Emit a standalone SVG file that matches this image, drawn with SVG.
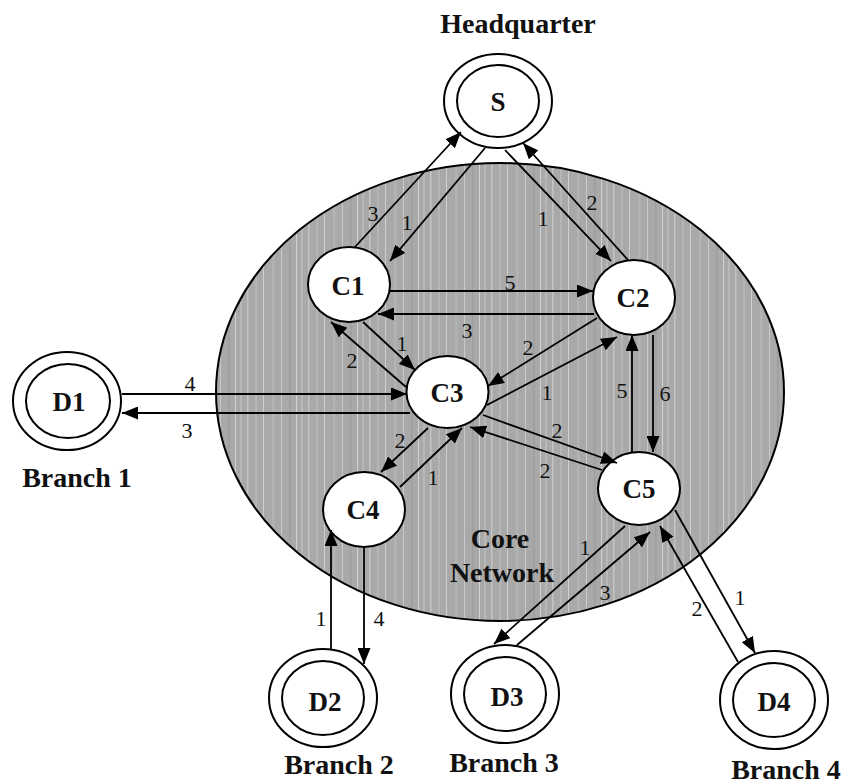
<svg xmlns="http://www.w3.org/2000/svg" width="850" height="784" viewBox="0 0 850 784">
  <style>
    .title { font-family: "Liberation Serif", "Times New Roman", serif; font-weight: bold; font-size: 28px; fill: #111; text-anchor: middle; }
    .nlabel { font-family: "Liberation Serif", "Times New Roman", serif; font-weight: bold; font-size: 27px; fill: #111; text-anchor: middle; }
    .elabel { font-family: "Liberation Serif", "Times New Roman", serif; font-size: 22px; fill: #111; text-anchor: middle; }
    .node { fill: #fff; stroke: #000; stroke-width: 2; }
    .ring { fill: none; stroke: #000; stroke-width: 2; }
    .edge { fill: none; stroke: #000; stroke-width: 1.8; marker-end: url(#arrow); }
  </style>
  <defs>
    <marker id="arrow" markerUnits="userSpaceOnUse" markerWidth="17" markerHeight="13" refX="16" refY="6.5" orient="auto">
      <path d="M0,0 L16,6.5 L0,13 Z" fill="#000"/>
    </marker>
    <!-- vertical streaks on the core area -->
    <pattern id="streaks" patternUnits="userSpaceOnUse" width="61" height="20">
      <rect width="61" height="20" fill="#a9a9a9"/>
      <rect x="3" width="1.5" height="20" fill="#c4c4c4"/>
      <rect x="11" width="2" height="20" fill="#b6b6b6"/>
      <rect x="19" width="1" height="20" fill="#cfcfcf"/>
      <rect x="28" width="2.5" height="20" fill="#b3b3b3"/>
      <rect x="37" width="1" height="20" fill="#c9c9c9"/>
      <rect x="45" width="1.5" height="20" fill="#9e9e9e"/>
      <rect x="52" width="1" height="20" fill="#d2d2d2"/>
      <rect x="57" width="2" height="20" fill="#b8b8b8"/>
    </pattern>
  </defs>

  <rect width="850" height="784" fill="#fff"/>

  <!-- core network area -->
  <g id="core">
    <ellipse cx="500" cy="392" rx="284" ry="229" fill="url(#streaks)" stroke="#000" stroke-width="2"/>
    <text class="title" x="500" y="548">Core</text>
    <text class="title" x="502" y="582">Network</text>
  </g>

  <!-- headquarter -->
  <g id="S">
    <ellipse class="node" cx="498" cy="101" rx="54" ry="47"/>
    <ellipse class="ring" cx="498" cy="101" rx="41" ry="36"/>
    <text class="nlabel" x="498" y="111">S</text>
    <text class="title" x="518" y="33">Headquarter</text>
  </g>

  <!-- core routers -->
  <g id="C1">
    <ellipse class="node" cx="349" cy="284.5" rx="41" ry="37.5"/>
    <text class="nlabel" x="348" y="295">C1</text>
  </g>
  <g id="C2">
    <ellipse class="node" cx="634" cy="297.5" rx="41" ry="37.5"/>
    <text class="nlabel" x="633" y="307">C2</text>
  </g>
  <g id="C3">
    <ellipse class="node" cx="447.5" cy="392" rx="41" ry="36"/>
    <text class="nlabel" x="447" y="402">C3</text>
  </g>
  <g id="C4">
    <ellipse class="node" cx="364" cy="509.5" rx="41" ry="37.5"/>
    <text class="nlabel" x="363" y="519">C4</text>
  </g>
  <g id="C5">
    <ellipse class="node" cx="639" cy="488.5" rx="41" ry="36.5"/>
    <text class="nlabel" x="639" y="498">C5</text>
  </g>

  <!-- branches -->
  <g id="D1">
    <ellipse class="node" cx="67" cy="401" rx="54" ry="49"/>
    <ellipse class="ring" cx="68" cy="401" rx="42" ry="37"/>
    <text class="nlabel" x="69" y="411">D1</text>
    <text class="title" x="77" y="487">Branch 1</text>
  </g>
  <g id="D2">
    <ellipse class="node" cx="323" cy="698" rx="54" ry="49"/>
    <ellipse class="ring" cx="323" cy="698" rx="41" ry="37"/>
    <text class="nlabel" x="325" y="711">D2</text>
    <text class="title" x="339" y="774">Branch 2</text>
  </g>
  <g id="D3">
    <ellipse class="node" cx="505" cy="694" rx="54" ry="49"/>
    <ellipse class="ring" cx="505" cy="694" rx="41" ry="37"/>
    <text class="nlabel" x="507" y="706">D3</text>
    <text class="title" x="504" y="772">Branch 3</text>
  </g>
  <g id="D4">
    <ellipse class="node" cx="774" cy="700" rx="54" ry="49"/>
    <ellipse class="ring" cx="774" cy="700" rx="41" ry="37"/>
    <text class="nlabel" x="774" y="711">D4</text>
    <text class="title" x="786" y="779">Branch 4</text>
  </g>

  <!-- connectors -->
  <g id="connectors">
    <path class="edge" d="M485,148 L390,261"/>
    <path class="edge" d="M354,248 L461,132"/>
    <path class="edge" d="M505,150 L611,261"/>
    <path class="edge" d="M628,260 L523,143"/>
    <path class="edge" d="M390,291 L593,291"/>
    <path class="edge" d="M594,314 L378,314"/>
    <path class="edge" d="M363,322 L415,370"/>
    <path class="edge" d="M406,387 L331,322"/>
    <path class="edge" d="M597,318 L488,386"/>
    <path class="edge" d="M487,405 L617,337"/>
    <path class="edge" d="M632,452 L632,335"/>
    <path class="edge" d="M653,335 L653,452"/>
    <path class="edge" d="M122,394 L407,394"/>
    <path class="edge" d="M410,413 L122,413"/>
    <path class="edge" d="M428,428 L381,472"/>
    <path class="edge" d="M400,487 L462,428"/>
    <path class="edge" d="M483,415 L617,463"/>
    <path class="edge" d="M602,470 L470,427"/>
    <path class="edge" d="M331,649 L331,530"/>
    <path class="edge" d="M364,547 L364,664"/>
    <path class="edge" d="M625,526 L494,644"/>
    <path class="edge" d="M517,645 L650,532"/>
    <path class="edge" d="M738,662 L660,526"/>
    <path class="edge" d="M675,510 L755,653"/>
  </g>

  <!-- connector weights -->
  <g id="weights">
    <text class="elabel" x="373" y="221">3</text>
    <text class="elabel" x="407" y="230">1</text>
    <text class="elabel" x="543" y="226">1</text>
    <text class="elabel" x="592" y="210">2</text>
    <text class="elabel" x="510" y="290">5</text>
    <text class="elabel" x="467" y="338">3</text>
    <text class="elabel" x="402" y="351">1</text>
    <text class="elabel" x="352" y="368">2</text>
    <text class="elabel" x="528" y="355">2</text>
    <text class="elabel" x="547" y="400">1</text>
    <text class="elabel" x="622" y="398">5</text>
    <text class="elabel" x="665" y="401">6</text>
    <text class="elabel" x="190" y="391">4</text>
    <text class="elabel" x="187" y="438">3</text>
    <text class="elabel" x="400" y="448">2</text>
    <text class="elabel" x="433" y="485">1</text>
    <text class="elabel" x="557" y="438">2</text>
    <text class="elabel" x="545" y="478">2</text>
    <text class="elabel" x="321" y="626">1</text>
    <text class="elabel" x="379" y="626">4</text>
    <text class="elabel" x="585" y="555">1</text>
    <text class="elabel" x="605" y="600">3</text>
    <text class="elabel" x="697" y="616">2</text>
    <text class="elabel" x="740" y="605">1</text>
  </g>
</svg>
